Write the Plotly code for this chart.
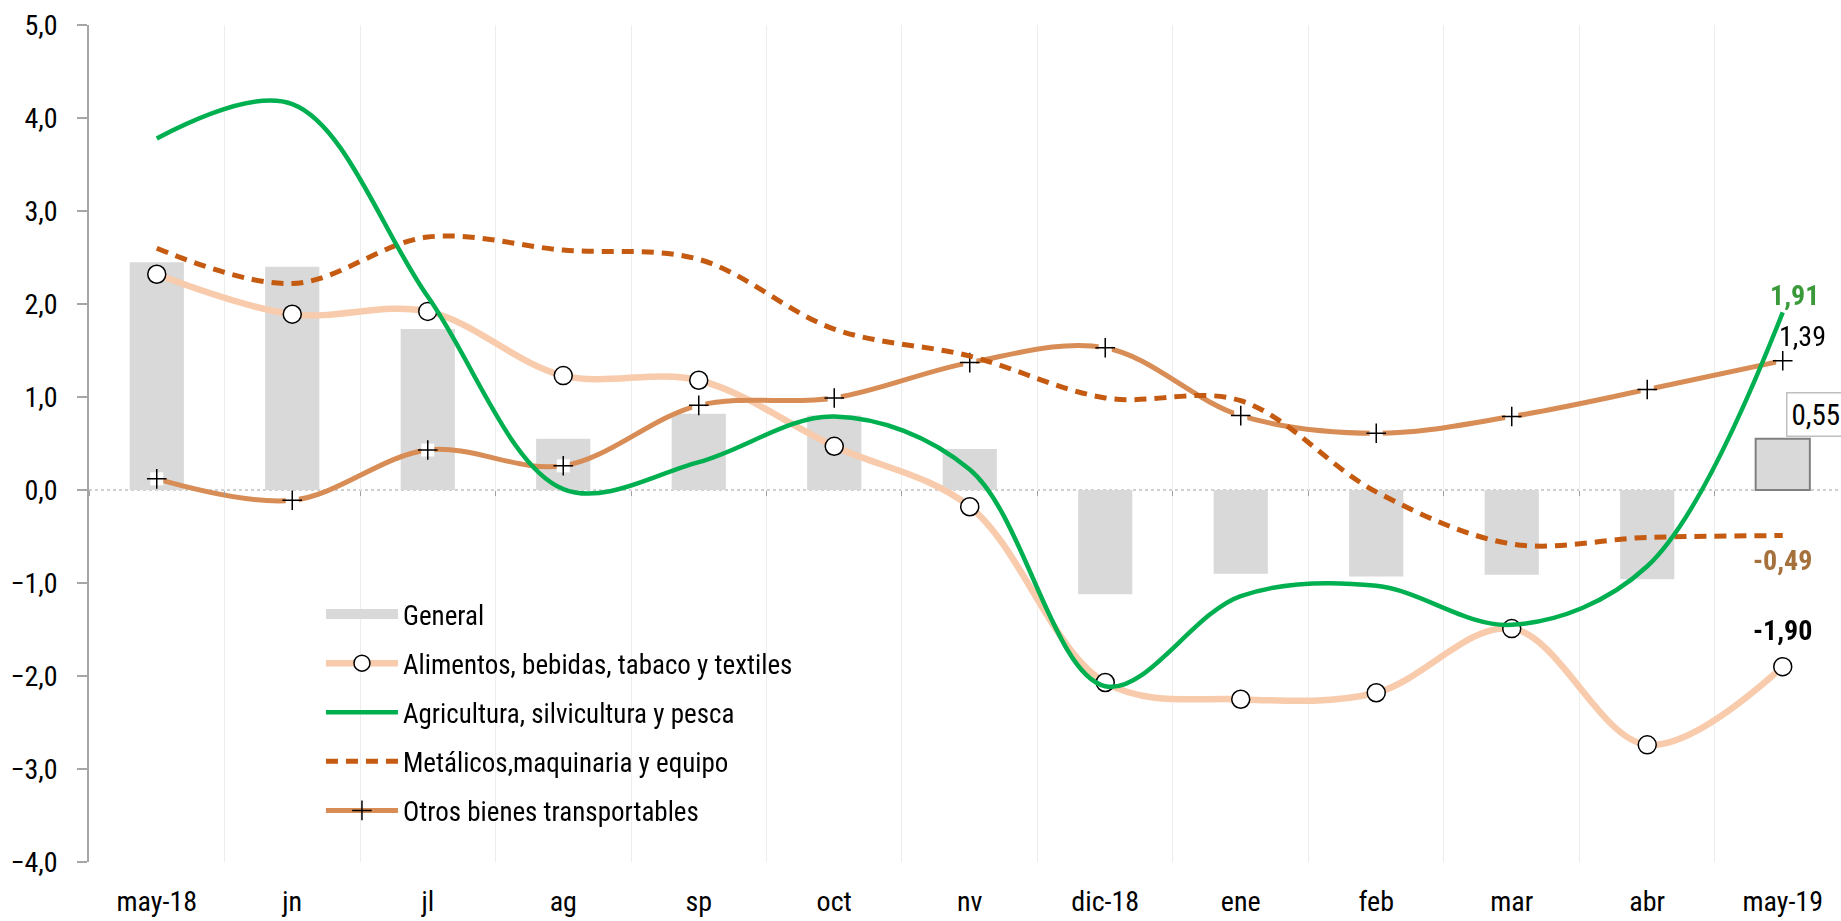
import plotly.graph_objects as go

categorias = ["may-18", "jn", "jl", "ag", "sp", "oct", "nv", "dic-18", "ene", "feb", "mar", "abr", "may-19"]
general = [2.45, 2.40, 1.73, 0.55, 0.82, 0.80, 0.44, -1.12, -0.90, -0.93, -0.91, -0.96, 0.55]
alimentos = [2.32, 1.89, 1.92, 1.23, 1.18, 0.47, -0.18, -2.07, -2.25, -2.18, -1.49, -2.74, -1.90]
agricultura = [3.78, 4.15, 2.08, 0.01, 0.30, 0.79, 0.22, -2.11, -1.14, -1.03, -1.45, -0.82, 1.91]
metalicos = [2.60, 2.22, 2.72, 2.58, 2.48, 1.73, 1.44, 0.99, 0.96, -0.02, -0.58, -0.51, -0.49]
otros = [0.12, -0.11, 0.43, 0.26, 0.91, 0.99, 1.37, 1.53, 0.80, 0.61, 0.79, 1.08, 1.39]

FONT = "Liberation Sans Narrow, Arial Narrow, Roboto Condensed, Liberation Sans, sans-serif"

fig = go.Figure()

n = len(categorias)
fig.add_trace(go.Bar(
    x=categorias, y=general, name="General", width=0.4,
    marker=dict(color="#D9D9D9",
                line=dict(color=["#D9D9D9"] * (n - 1) + ["#808080"],
                          width=[0] * (n - 1) + [2])),
    showlegend=False, legendgroup="g1", legendrank=1,
))
# legend proxy for General
fig.add_trace(go.Scatter(
    x=[None], y=[None], mode="lines", name="General",
    line=dict(color="#D9D9D9", width=16), legendgroup="g1", legendrank=1,
))
fig.add_trace(go.Scatter(
    x=categorias, y=alimentos, name="Alimentos, bebidas, tabaco y textiles",
    mode="lines+markers", line=dict(color="#F8CBAD", width=6.5, shape="spline", smoothing=1.0),
    marker=dict(symbol="circle", size=18, color="white", line=dict(color="black", width=1.5)),
    legendgroup="g2", legendrank=2,
))
fig.add_trace(go.Scatter(
    x=categorias, y=otros, name="Otros bienes transportables",
    mode="lines", line=dict(color="#D78D55", width=5, shape="spline", smoothing=1.0),
    showlegend=False, legendgroup="g5", legendrank=5,
))
fig.add_trace(go.Scatter(
    x=categorias, y=otros, mode="markers", showlegend=False, hoverinfo="skip",
    marker=dict(symbol="square", size=13, color="white", line=dict(width=0)),
    legendgroup="g5", legendrank=5,
))
fig.add_trace(go.Scatter(
    x=categorias, y=otros, name="Otros bienes transportables",
    mode="markers",
    marker=dict(symbol="cross-thin", size=14, color="black", line=dict(color="black", width=1.5)),
    showlegend=False, legendgroup="g5", legendrank=5,
))
# legend proxy for Otros
fig.add_trace(go.Scatter(
    x=[None], y=[None], name="Otros bienes transportables", mode="lines+markers",
    line=dict(color="#D78D55", width=5),
    marker=dict(symbol="cross-thin", size=14, color="black", line=dict(color="black", width=1.5)),
    legendgroup="g5", legendrank=5,
))
fig.add_trace(go.Scatter(
    x=categorias, y=metalicos, name="Metálicos,maquinaria y equipo",
    mode="lines", line=dict(color="#C55A11", width=5, shape="spline", smoothing=1.0, dash="12px,8px"),
    legendgroup="g4", legendrank=4,
))
fig.add_trace(go.Scatter(
    x=categorias, y=agricultura, name="Agricultura, silvicultura y pesca",
    mode="lines", line=dict(color="#00B050", width=4.5, shape="spline", smoothing=1.0),
    legendgroup="g3", legendrank=3,
))
# invisible trace for the secondary x axis drawn on the zero line
fig.add_trace(go.Scatter(
    x=categorias, y=general, xaxis="x2", mode="markers", opacity=0,
    showlegend=False, hoverinfo="skip",
))

last = categorias[-1]
annotations = [
    dict(x=last, y=general[-1], text="0,55", xanchor="left", yanchor="bottom",
         xshift=3, yshift=2, showarrow=False, bgcolor="white",
         bordercolor="#BFBFBF", borderwidth=1.5, borderpad=4,
         font=dict(size=29, color="black", family=FONT)),
    dict(x=last, y=agricultura[-1], text="<b>1,91</b>", xanchor="center", yanchor="bottom",
         xshift=12, yshift=-2, showarrow=False,
         font=dict(size=28, color="#3A9A3A", family=FONT)),
    dict(x=last, y=otros[-1], text="1,39", xanchor="center", yanchor="bottom",
         xshift=20, yshift=6, showarrow=False,
         font=dict(size=28, color="black", family=FONT)),
    dict(x=last, y=metalicos[-1], text="<b>-0,49</b>", xanchor="center", yanchor="top",
         xshift=0, yshift=-6, showarrow=False,
         font=dict(size=28, color="#A5703C", family=FONT)),
    dict(x=last, y=alimentos[-1], text="<b>-1,90</b>", xanchor="center", yanchor="bottom",
         xshift=0, yshift=18, showarrow=False,
         font=dict(size=28, color="black", family=FONT)),
]

fig.update_layout(
    width=1841, height=921, autosize=False,
    margin=dict(l=89, r=0, t=25, b=59),
    paper_bgcolor="white", plot_bgcolor="white",
    separators=",.",
    font=dict(family=FONT, size=28, color="black"),
    bargap=0.6,
    showlegend=True,
    legend=dict(x=0.1324, y=0.325, xanchor="left", yanchor="top",
                bgcolor="rgba(0,0,0,0)", font=dict(size=27, family=FONT, color="black"),
                itemwidth=72, tracegroupgap=11, traceorder="grouped"),
    xaxis=dict(type="category", categoryorder="array", categoryarray=categorias,
               range=[-0.5, 12.43], showgrid=True, gridcolor="#EDEDED", gridwidth=1,
               tickson="boundaries", ticks="", showline=False, zeroline=False,
               ticklabelstandoff=20, tickfont=dict(size=28, family=FONT),
               automargin=False),
    xaxis2=dict(type="category", categoryorder="array", categoryarray=categorias,
                range=[-0.5, 12.43], overlaying="x", anchor="free", position=4 / 9,
                showgrid=False, showticklabels=False, ticks="outside", ticklen=5,
                tickcolor="#A0A0A0", tickson="boundaries", showline=False, zeroline=False,
                matches="x"),
    yaxis=dict(range=[-4, 5], dtick=1, tickformat=".1f", showgrid=False, zeroline=False,
               showline=True, linecolor="#A6A6A6", linewidth=1.5,
               ticks="outside", ticklen=10, tickcolor="#A6A6A6", tickwidth=1.5,
               ticklabelstandoff=14, tickfont=dict(size=28, family=FONT),
               automargin=False),
    annotations=annotations,
    shapes=[dict(type="line", xref="paper", yref="y", x0=0, x1=1, y0=0, y1=0,
                 line=dict(color="#A0A0A0", width=1, dash="dot"), layer="below")],
)

fig.write_html("out.html", config={"displayModeBar": False},
               post_script="document.body.style.margin='0px';")
